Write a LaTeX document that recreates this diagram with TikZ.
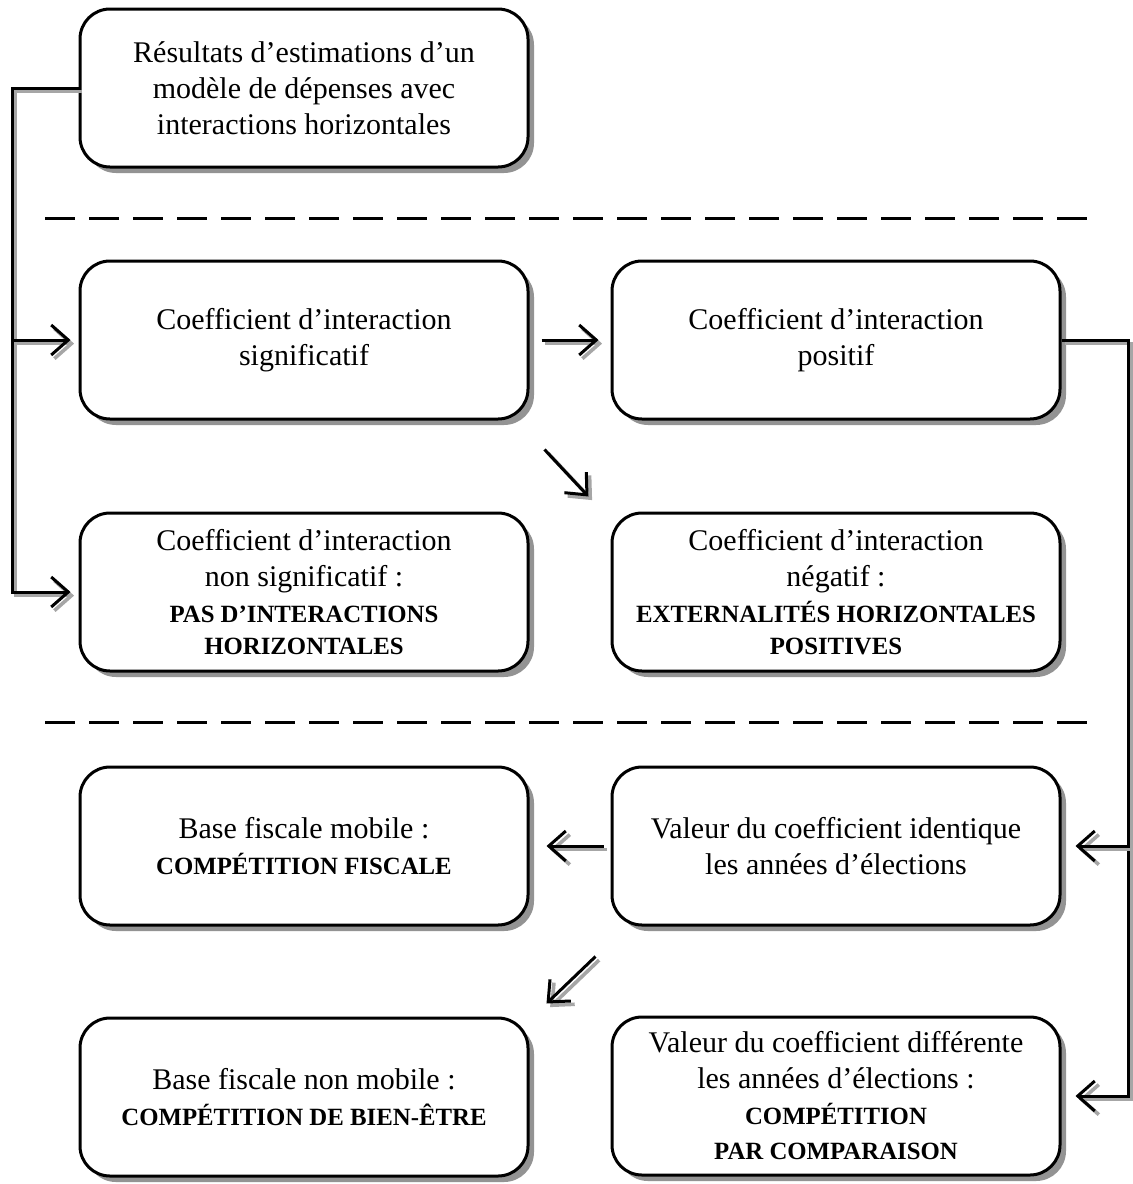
\documentclass[tikz,border=0pt]{standalone}
\usepackage{fontspec}
\setmainfont{Liberation Serif}
\usetikzlibrary{arrows.meta,shadows,calc}
\newcommand\bcap[1]{{\fontsize{12.4}{16}\selectfont\bfseries #1}}
\begin{document}
\begin{tikzpicture}[x=0.5pt,y=-0.5pt,
  box/.style={draw, line width=1.5pt, rounded corners=15pt, fill=white,
    minimum width=224pt, minimum height=79pt, align=center,
    font=\fontsize{15}{18}\selectfont,
    drop shadow={shadow xshift=3pt, shadow yshift=-3pt, fill=gray!85, opacity=1}},
  tip/.style={-{Straight Barb[length=8.5pt,width=15pt]}},
  conn/.style={line width=1.5pt,
    preaction={draw, gray!70, line width=1.8pt,
      transform canvas={xshift=1.8pt,yshift=-1.8pt}}},
  sep/.style={line width=1.5pt, dash pattern=on 15pt off 7pt}
]
\useasboundingbox (0,0) rectangle (1132,1184);

\node[box] (R) at (304,88) {Résultats d’estimations d’un\\modèle de dépenses avec\\interactions horizontales};
\node[box] (A) at (304,340) {Coefficient d’interaction\\significatif};
\node[box] (B) at (836,340) {Coefficient d’interaction\\positif};
\node[box] (C) at (304,592) {Coefficient d’interaction\\non significatif :\\\bcap{PAS D’INTERACTIONS}\\[-2pt]\bcap{HORIZONTALES}};
\node[box] (D) at (836,592) {Coefficient d’interaction\\négatif :\\\bcap{EXTERNALITÉS HORIZONTALES}\\[-2pt]\bcap{POSITIVES}};
\node[box] (E) at (304,846) {Base fiscale mobile :\\\bcap{COMPÉTITION FISCALE}};
\node[box] (F) at (836,846) {Valeur du coefficient identique\\les années d’élections};
\node[box] (G) at (304,1097) {Base fiscale non mobile :\\\bcap{COMPÉTITION DE BIEN-ÊTRE}};
\node[box] (H) at (836,1096) {Valeur du coefficient différente\\les années d’élections :\\\bcap{COMPÉTITION}\\[-0.5pt]\bcap{PAR COMPARAISON}};

\coordinate (d1a) at (45,218); \coordinate (d1b) at (1090,218);
\coordinate (d2a) at (45,722); \coordinate (d2b) at (1090,722);
\draw[sep] (d1a) -- (d1b);
\draw[sep] (d2a) -- (d2b);

\coordinate (lx) at (12,0);
\coordinate (rx) at (1128,0);

% left bus
\draw[conn,tip,shorten >=4pt] (R.west) -| (lx |- C.west) -- (C.west);
\draw[conn,tip,shorten >=4pt] (lx |- A.west) -- (A.west);
% right bus
\draw[conn,tip,shorten >=7pt] (B.east) -| (rx |- H.east) -- (H.east);
\draw[conn,tip,shorten >=7pt] (rx |- F.east) -- (F.east);
% horizontal arrows
\draw[conn,tip] ([xshift=6pt]A.east) -- ([xshift=-6pt]B.west);
\draw[conn,tip] ([xshift=-3.5pt]F.west) -- ([xshift=8.5pt]E.east);
% diagonals
\draw[conn,tip] ($(A.south east)+(15,29)$) -- ($(D.north west)+(-22,-15)$);
\draw[conn,tip] ($(F.south west)+(-15,30)$) -- ($(G.north east)+(17,-13)$);
\end{tikzpicture}
\end{document}
